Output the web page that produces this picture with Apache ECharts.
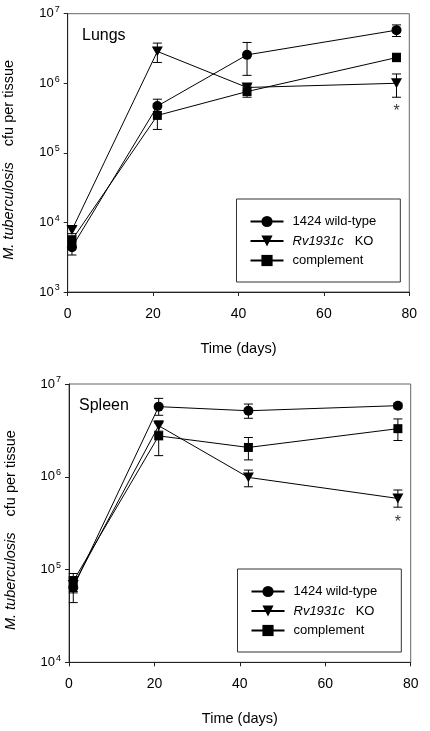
<!DOCTYPE html>
<html><head><meta charset="utf-8">
<script src="https://cdn.jsdelivr.net/npm/echarts@6/dist/echarts.min.js"></script>
<style>html,body{margin:0;padding:0;background:#fff}#c{width:430px;height:731px}</style>
</head><body><div id="c"></div>
<script>
const days = [1, 21, 42, 77];
const seriesNames = ['1424 wild-type', 'Rv1931c KO', 'complement'];
const xTicks = [0, 20, 40, 60, 80];
const lungsYTicks = [1e3, 1e4, 1e5, 1e6, 1e7];
const spleenYTicks = [1e4, 1e5, 1e6, 1e7];

// Lungs
const lungsWT = [4400, 470000, 2560000, 5800000];
const lungsWTLow = [3400, 360000, 1300000, 4700000];
const lungsWTHigh = [5300, 590000, 3860000, 6900000];
const lungsKO = [7800, 2870000, 870000, 1000000];
const lungsKOLow = [6900, 1990000, 780000, 630000];
const lungsKOHigh = [8600, 3780000, 960000, 1360000];
const lungsComp = [5600, 345000, 760000, 2340000];
const lungsCompLow = [4800, 217000, 630000, 2050000];
const lungsCompHigh = [6400, 510000, 910000, 2700000];

// Spleen
const spleenWT = [64000, 5700000, 5150000, 5840000];
const spleenWTLow = [44000, 4600000, 4270000, 5500000];
const spleenWTHigh = [84000, 7000000, 6080000, 6200000];
const spleenKO = [68000, 3550000, 984000, 584000];
const spleenKOLow = [58000, 3100000, 780000, 470000];
const spleenKOHigh = [80000, 4000000, 1180000, 720000];
const spleenComp = [75000, 2760000, 2070000, 3300000];
const spleenCompLow = [56000, 1690000, 1520000, 2460000];
const spleenCompHigh = [90600, 3800000, 2650000, 4200000];

const FONT = 'Liberation Sans';
const triPath = 'path://M0,0L10,0L5,9Z';
const symbols = ['circle', triPath, 'rect'];
const symSizes = [10, 11, 9];

function pts(vals){ return days.map((d,i)=>[d, vals[i]]); }
function errs(lo, hi){ return days.map((d,i)=>[d, lo[i], hi[i]]); }

function errRender(params, api){
  const x = api.value(0), lo = api.value(1), hi = api.value(2);
  const a = api.coord([x, lo]), b = api.coord([x, hi]);
  const w = 4.5;
  const st = {stroke:'#000', lineWidth:1};
  return {type:'group', children:[
    {type:'line', shape:{x1:a[0],y1:a[1],x2:b[0],y2:b[1]}, style:st},
    {type:'line', shape:{x1:a[0]-w,y1:a[1],x2:a[0]+w,y2:a[1]}, style:st},
    {type:'line', shape:{x1:b[0]-w,y1:b[1],x2:b[0]+w,y2:b[1]}, style:st}
  ]};
}

function supLabel(v){
  const e = Math.round(Math.log10(v));
  return '10{s|' + e + '}';
}

function xAxis(gi){
  return {
    type:'value', gridIndex:gi, min:0, max:80, interval:20,
    name:'Time (days)', nameLocation:'middle', nameGap:49,
    nameTextStyle:{fontFamily:FONT, fontSize:14.5, color:'#000'},
    axisLine:{lineStyle:{color:'#222', width:1}},
    axisTick:{show:true, inside:false, length:4, lineStyle:{color:'#222'}},
    axisLabel:{fontFamily:FONT, fontSize:14, color:'#000', margin:15},
    splitLine:{show:false}
  };
}
function yAxis(gi, ticks){
  return {
    type:'log', logBase:10, gridIndex:gi, min:ticks[0], max:ticks[ticks.length-1],
    name:'{i|M. tuberculosis}    cfu per tissue', nameLocation:'middle', nameGap:51,
    nameTextStyle:{fontFamily:FONT, fontSize:14.5, color:'#000', padding:[0,14,0,0],
      rich:{i:{fontFamily:FONT, fontSize:14.5, fontStyle:'italic', color:'#000'}}},
    axisLine:{show:true, lineStyle:{color:'#222', width:1}},
    axisTick:{show:true, inside:false, length:4, lineStyle:{color:'#222'}},
    axisLabel:{fontFamily:FONT, fontSize:13, color:'#000', margin:8,
      formatter: supLabel,
      rich:{s:{fontFamily:FONT, fontSize:9, color:'#000', verticalAlign:'top', padding:[0,0,8,1]}}},
    minorTick:{show:false},
    splitLine:{show:false}
  };
}

function panelSeries(gi, vals, lows, highs){
  const out = [];
  for (let k=0;k<3;k++){
    out.push({
      type:'custom', xAxisIndex:gi, yAxisIndex:gi,
      renderItem: errRender, encode:{x:0, y:[1,2]}, data: errs(lows[k], highs[k]),
      z:1, silent:true
    });
  }
  for (let k=0;k<3;k++){
    out.push({
      type:'line', name:seriesNames[k], xAxisIndex:gi, yAxisIndex:gi,
      data: pts(vals[k]), symbol: symbols[k], symbolSize: symSizes[k], symbolKeepAspect:true,
      showAllSymbol:true,
      itemStyle:{color:'#000', borderWidth:0}, lineStyle:{color:'#000', width:1},
      z:3, animation:false
    });
  }
  out.push({
    type:'scatter', xAxisIndex:gi, yAxisIndex:gi, symbolSize:0, silent:true,
    data:[[days[3], vals[1][3]]],
    label:{show:true, formatter:'*', position:'inside', offset:[0, gi===0?28:24],
      fontFamily:FONT, fontSize:16, color:'#000'},
    z:4
  });
  return out;
}

function legend(left, top){
  return {
    orient:'vertical', left:left, top:top, data:seriesNames,
    borderColor:'#333', borderWidth:1, padding:[16,24,15,13],
    itemWidth:33, itemHeight:14, itemGap:6.5, selectedMode:false,
    textStyle:{fontFamily:FONT, fontSize:13, color:'#000', padding:[0,0,0,4],
      rich:{i:{fontFamily:FONT, fontSize:13, fontStyle:'italic', color:'#000'}}},
    formatter: n => n==='Rv1931c KO' ? '{i|Rv1931c}   KO' : n
  };
}

const chart = echarts.init(document.getElementById('c'), null, {renderer:'canvas'});
chart.setOption({
  animation:false,
  backgroundColor:'#fff',
  grid:[
    {left:67.7, top:13.7, width:341.6, height:278.3, show:true, borderColor:'#666', borderWidth:1, backgroundColor:'transparent', outerBoundsMode:'none', containLabel:false},
    {left:69, top:384, width:341.7, height:278.3, show:true, borderColor:'#666', borderWidth:1, backgroundColor:'transparent', outerBoundsMode:'none', containLabel:false}
  ],
  xAxis:[xAxis(0), xAxis(1)],
  yAxis:[yAxis(0, lungsYTicks), yAxis(1, spleenYTicks)],
  legend:[legend(236.5, 199), legend(237.5, 569)],
  graphic:[
    {type:'text', left:82, top:28, style:{text:'Lungs', fontFamily:FONT, fontSize:16, fill:'#000'}},
    {type:'text', left:79, top:398, style:{text:'Spleen', fontFamily:FONT, fontSize:16, fill:'#000'}}
  ],
  series:[].concat(
    panelSeries(0, [lungsWT, lungsKO, lungsComp], [lungsWTLow, lungsKOLow, lungsCompLow], [lungsWTHigh, lungsKOHigh, lungsCompHigh]),
    panelSeries(1, [spleenWT, spleenKO, spleenComp], [spleenWTLow, spleenKOLow, spleenCompLow], [spleenWTHigh, spleenKOHigh, spleenCompHigh])
  )
});
</script></body></html>
